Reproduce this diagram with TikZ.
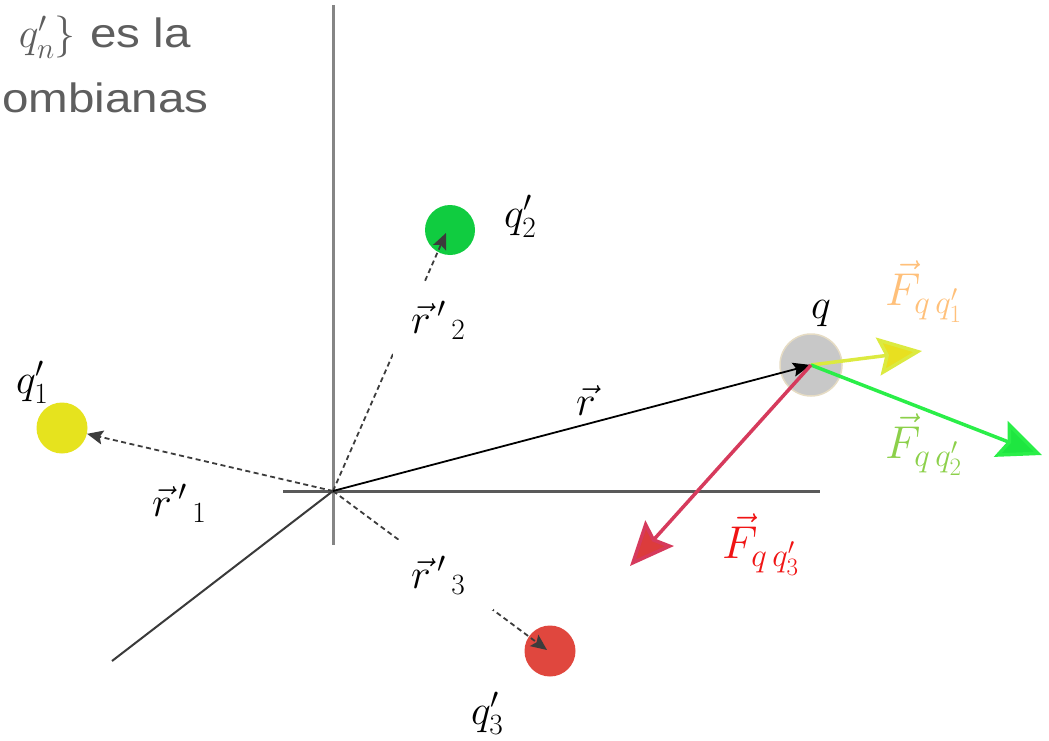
\RequirePackage{fix-cm}
\documentclass[tikz,border=0pt]{standalone}
\usepackage{fontspec}
\newfontfamily\sansf{Liberation Sans}
\usetikzlibrary{arrows.meta}
\newcommand\subqq[1]{\mbox{\fontsize{33}{38}\selectfont$q\,q'_{\mbox{\fontsize{25}{30}\selectfont$#1$}}$}}
\definecolor{txtgray}{HTML}{5E5E5E}
\definecolor{axisv}{HTML}{858585}
\definecolor{axish}{HTML}{5A5A5A}
\definecolor{axisd}{HTML}{3A3A3A}
\definecolor{dashc}{HTML}{3C3C3C}
\definecolor{qgray}{HTML}{C8C8C8}
\definecolor{qring}{HTML}{E6DCC4}
\definecolor{qyellow}{HTML}{E6E31E}
\definecolor{qgreen}{HTML}{10CC40}
\definecolor{qred}{HTML}{E0473E}
\definecolor{fyline}{HTML}{DCEA40}
\definecolor{fyhead}{HTML}{E8E020}
\definecolor{fgline}{HTML}{2AEE48}
\definecolor{fghead}{HTML}{1EE640}
\definecolor{frline}{HTML}{D63A5C}
\definecolor{frhead}{HTML}{DC3C3C}
\definecolor{lblorange}{HTML}{FFC07A}
\definecolor{lblgreen}{HTML}{8CD04A}
\definecolor{lblred}{HTML}{F01414}
\begin{document}
\begin{tikzpicture}[x=1pt,y=-1pt,
  mathlbl/.style={inner sep=0pt, font=\fontsize{42}{50}\selectfont},
  flbl/.style={inner sep=0pt, font=\fontsize{46}{54}\selectfont},
  charge/.style={circle, inner sep=0pt, minimum size=#1},
  masklbl/.style={fill=white, font=\fontsize{42}{50}\selectfont},
  dasharrow/.style={draw=dashc, line width=1.8pt, dash pattern=on 5pt off 3.5pt,
    -{Stealth[length=16pt,width=14pt,inset=3pt]}},
  forcearrow/.style={line width=3.5pt, -{Stealth[length=44pt,width=38pt,inset=7pt,fill=#1]}}
]
\path[use as bounding box] (0,0) rectangle (1049,741);

% top-left text
\node[anchor=base east, inner sep=0pt, text=txtgray, font=\fontsize{42}{50}\selectfont] (t1) at (76,48) {$q'_n\}$};
\node[anchor=base west, inner sep=0pt, text=txtgray, font=\sansf\fontsize{41}{48}\selectfont] (t2) at (90,48) {\scalebox{1.16}[1]{es la}};
\node[anchor=base west, inner sep=0pt, text=txtgray, font=\sansf\fontsize{41}{48}\selectfont] (t3) at (2,113) {\scalebox{1.16}[1]{ombianas}};

% axes
\coordinate (O) at (333,491);
\coordinate (vt) at (333,5);
\coordinate (vb) at (333,545);
\coordinate (hl) at (283,491);
\coordinate (hr) at (820,491);
\coordinate (dd) at (112,661);
\draw[axisv, line width=3pt] (vt) -- (vb);
\draw[axish, line width=3pt] (hl) -- (hr);
\draw[axisd, line width=2pt] (O) -- (dd);

% charges
\node[charge=62pt, fill=qgray, draw=qring, line width=1.5pt] (q) at (811,365) {};
\node[charge=51pt, fill=qyellow] (q1) at (62,428) {};
\node[charge=50pt, fill=qgreen] (q2) at (450,230) {};
\node[charge=51pt, fill=qred] (q3) at (550,651) {};

% position vectors
\draw[dasharrow] (O) -- (q1);
\draw[dasharrow] (O) -- (446,233) coordinate (q2tip);
\draw[dasharrow] (O) -- (547,650) coordinate (q3tip);
\draw[black, line width=1.8pt, -{Stealth[length=18pt,width=14pt,inset=3pt]}] (O) -- (q.center);

% forces
\coordinate (fy) at (922,351);
\coordinate (fg) at (1042,455);
\coordinate (fr) at (630,566);
\draw[forcearrow=fyhead, draw=fyline] (q.center) -- (fy);
\draw[forcearrow=fghead, draw=fgline] (q.center) -- (fg);
\draw[forcearrow=frhead, draw=frline] (q.center) -- (fr);

% labels
\node[mathlbl, anchor=base] (lq) at (821,318) {$q$};
\node[mathlbl, anchor=base west] (lq1) at (16,393) {$q'_1$};
\node[mathlbl, anchor=base west] (lq2) at (504,227) {$q'_2$};
\node[mathlbl, anchor=base west] (lq3) at (471,724) {$q'_3$};
\node[mathlbl, anchor=base] (lr) at (586,415) {$\vec{r}$};
\node[mathlbl, anchor=base west] (lr1) at (152,516) {$\vec{r}\,'{}_{\,1}$};
\node[masklbl, anchor=base west, inner sep=18pt] (lr2) at (393,333) {$\vec{r}\,'{}_{\,2}$};
\node[masklbl, anchor=base west, inner xsep=28pt, inner ysep=16pt] (lr3) at (383,588) {$\vec{r}\,'{}_{\,3}$};

\node[flbl, anchor=base west, text=lblorange] (lf1) at (885,305) {$\vec{F}_{\subqq{1}}$};
\node[flbl, anchor=base west, text=lblgreen] (lf2) at (885,458) {$\vec{F}_{\subqq{2}}$};
\node[flbl, anchor=base west, text=lblred] (lf3) at (722,558) {$\vec{F}_{\subqq{3}}$};
\end{tikzpicture}
\end{document}
